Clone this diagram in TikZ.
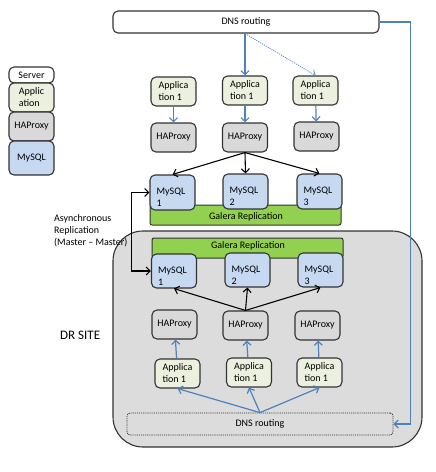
\documentclass[tikz,border=0pt]{standalone}
\usepackage{fontspec}
\setmainfont{Carlito}
\usetikzlibrary{arrows.meta,calc}
\definecolor{appfill}{HTML}{EBF1DE}
\definecolor{hafill}{HTML}{D9D9D9}
\definecolor{sqlfill}{HTML}{C6D9F1}
\definecolor{galera}{HTML}{92D050}
\definecolor{blueline}{HTML}{4F81BD}
\definecolor{drfill}{HTML}{DCDCDC}
\definecolor{edge}{HTML}{333333}
\begin{document}
\begin{tikzpicture}[x=1pt,y=-1pt, font=\fontsize{10}{12}\selectfont,
  box/.style={draw=edge, line width=1.1pt, rounded corners=5pt, inner sep=0pt},
  appbox/.style={box, fill=appfill, minimum width=45pt, minimum height=29pt, align=left},
  habox/.style={box, fill=hafill, minimum width=45pt, minimum height=29pt},
  sqlbox/.style={box, fill=sqlfill, minimum width=45pt, minimum height=35pt},
  galbox/.style={draw=edge, line width=1pt, fill=galera, rounded corners=2pt, minimum width=191pt, minimum height=20pt, inner sep=0pt},
  sqltext/.style={anchor=north west, align=left, inner sep=0pt},
  blarrow/.style={draw=blueline, line width=1.2pt, -{Straight Barb[length=4pt,width=8pt]}},
  bkarrow/.style={draw=black, line width=1.1pt, -{Straight Barb[length=4pt,width=8pt]}},
]
\useasboundingbox (0,0) rectangle (436,472);

% DR site region
\node[draw=edge, line width=1.1pt, fill=drfill, rounded corners=30pt, minimum width=309pt, minimum height=216pt] (dr) at (267.5,339) {};

% legend
\node[box, fill=white, minimum width=45pt, minimum height=16pt] (ls) at (31.5,75) {Server};
\node[box, fill=appfill, minimum width=45pt, minimum height=29pt, align=left] (la) at (31.5,97.5) {Applic\\ation};
\node[box, fill=hafill, minimum width=45pt, minimum height=29pt] (lh) at (31.5,126.5) {HAProxy};
\node[box, fill=sqlfill, minimum width=45pt, minimum height=34pt] (lm) at (31.5,158) {MySQL};

% DNS routing
\node[box, fill=white, minimum width=266pt, minimum height=22pt] (dns1) at (246,22) {DNS routing};
\node[box, densely dotted, line width=0.8pt, fill=drfill, rounded corners=3pt, minimum width=266pt, minimum height=22pt] (dns2) at (260,424) {DNS routing};

% top site
\node[appbox] (a1) at (173.5,91.5) {Applica\\tion 1};
\node[appbox] (a2) at (245,90.5) {Applica\\tion 1};
\node[appbox] (a3) at (315.5,90.5) {Applica\\tion 1};
\node[habox] (h1) at (173.5,137.5) {HAProxy};
\node[habox] (h2) at (245,137.5) {HAProxy};
\node[habox] (h3) at (316.5,136.5) {HAProxy};

\node[galbox] (g1) at (245.5,215) {};
\node[inner sep=0pt] (g1t) at (246,217) {Galera Replication};
\node[sqlbox] (m1) at (172.5,192.5) {};
\node[sqlbox] (m2) at (245.5,191.5) {};
\node[sqlbox] (m3) at (319.5,191.5) {};
\node[sqltext] (m1t) at ($(m1.north west)+(7,13.5)$) {MySQL\\1};
\node[sqltext] (m2t) at ($(m2.north west)+(7,13.5)$) {MySQL\\2};
\node[sqltext] (m3t) at ($(m3.north west)+(7,13.5)$) {MySQL\\3};

% DR site
\node[galbox] (g2) at (247.5,248) {};
\node[inner sep=0pt] (g2t) at (248,246) {Galera Replication};
\node[sqlbox, minimum height=34pt] (m4) at (174,271) {};
\node[sqlbox, minimum height=34pt] (m5) at (247.5,270) {};
\node[sqlbox, minimum height=34pt] (m6) at (320.5,270) {};
\node[sqltext] (m4t) at ($(m4.north west)+(7,13)$) {MySQL\\1};
\node[sqltext] (m5t) at ($(m5.north west)+(7,13)$) {MySQL\\2};
\node[sqltext] (m6t) at ($(m6.north west)+(7,13)$) {MySQL\\3};
\node[habox] (h4) at (174.5,324.5) {HAProxy};
\node[habox] (h5) at (245.5,325.5) {HAProxy};
\node[habox] (h6) at (317.5,325.5) {HAProxy};
\node[appbox] (a4) at (177.5,373.5) {Applica\\tion 1};
\node[appbox] (a5) at (249,372.5) {Applica\\tion 1};
\node[appbox] (a6) at (319.5,372.5) {Applica\\tion 1};

% labels
\node[anchor=west, inner sep=0pt, font=\fontsize{13}{15}\selectfont] (drl) at (60,335) {DR SITE};
\node[anchor=north west, align=left, inner sep=0pt] (async) at (54,214) {Asynchronous\\Replication\\(Master – Master)};

% connectors top
\draw[blarrow] (dns1.south -| a2.north) -- (a2.north);
\draw[blarrow, densely dotted, line width=0.7pt] (dns1.south -| a2.north) -- (a3.north);
\draw[blarrow] (a1) -- (h1);
\draw[blarrow] (a2) -- (h2);
\draw[blarrow] (a3) -- (h3);
\draw[bkarrow] (h2.south) -- (m1.north);
\draw[bkarrow] (h2.south) -- (m2.north);
\draw[bkarrow] (h2.south) -- (m3.north);

% connectors DR
\draw[bkarrow] (h5.north) -- (m4.south);
\draw[bkarrow] (h5.north) -- (m5.south);
\draw[bkarrow] (h5.north) -- (m6.south);
\draw[blarrow] (a4) -- (h4);
\draw[blarrow] (a5) -- (h5);
\draw[blarrow] (a6) -- (h6);
\draw[blarrow] (dns2.north) -- (a4.south);
\draw[blarrow] (dns2.north) -- (a5.south);
\draw[blarrow] (dns2.north) -- (a6.south);

% async replication
\draw[black, line width=1.1pt, {Straight Barb[length=4pt,width=8pt]}-{Straight Barb[length=4pt,width=8pt]}] (m1.west) -- ++(-18,0) |- (m4.west);

% DNS failover
\coordinate (fo) at ($(dns2.east)+(17,0)$);
\draw[blarrow] (dns1.east) -| (fo) -- (dns2.east);
\end{tikzpicture}
\end{document}
